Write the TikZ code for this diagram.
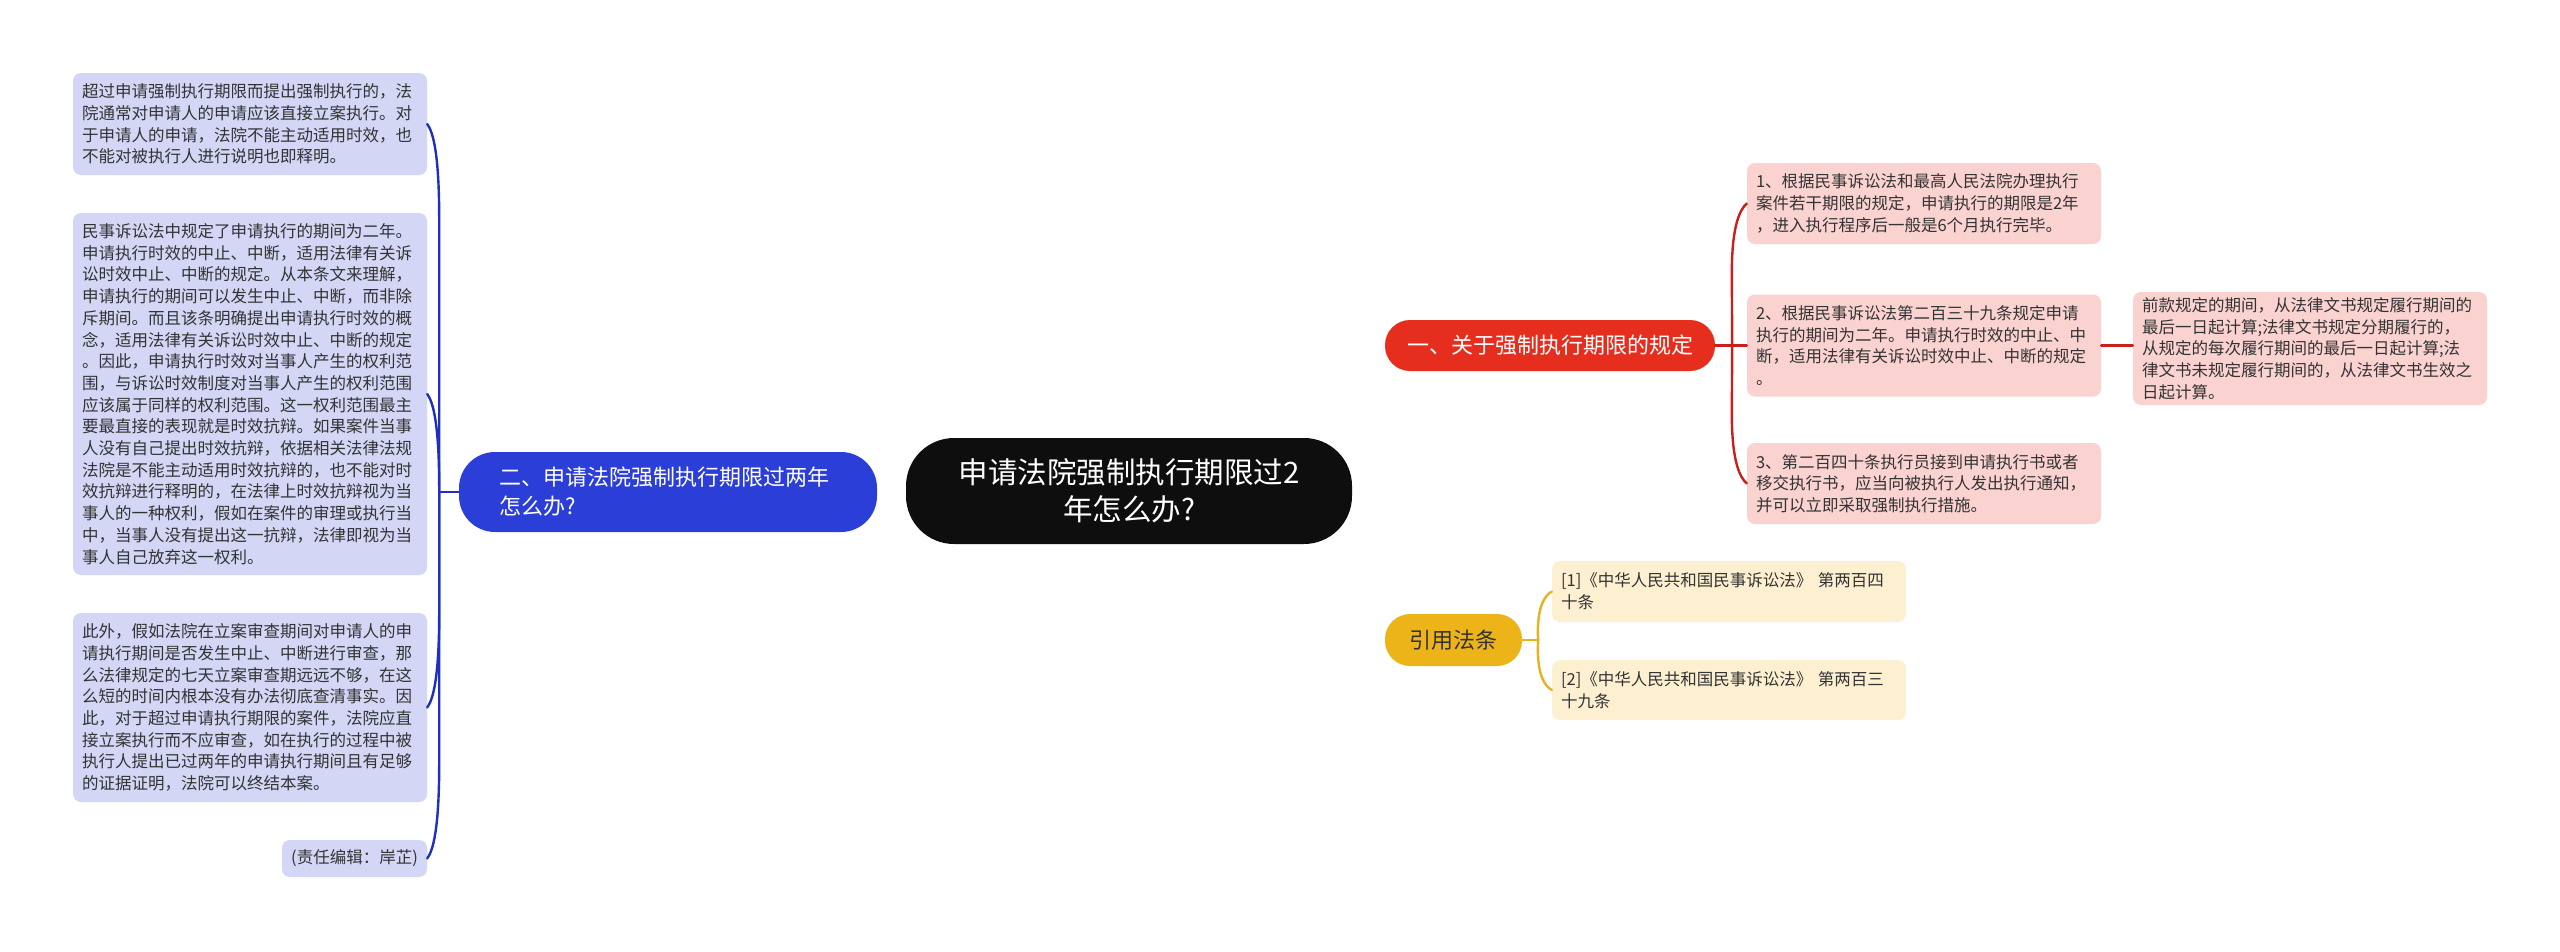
\documentclass[tikz,border=0pt]{standalone}
\usepackage{fontspec}
\setmainfont{Noto Sans CJK SC}
\usetikzlibrary{calc,backgrounds}
\definecolor{centralfill}{HTML}{0E0E0E}
\definecolor{bluenode}{HTML}{2B3FD8}
\definecolor{blueleaf}{HTML}{D3D6F5}
\definecolor{blueline}{HTML}{1F2FC0}
\definecolor{rednode}{HTML}{E62E1E}
\definecolor{redleaf}{HTML}{FAD3D1}
\definecolor{redline}{HTML}{C8211B}
\definecolor{yellownode}{HTML}{EDB419}
\definecolor{yellowleaf}{HTML}{FDF0D0}
\definecolor{yellowline}{HTML}{E6B21E}
\definecolor{leaftext}{HTML}{333333}
\tikzset{
  leafbox/.style={rounded corners=8pt, inner xsep=9pt, inner ysep=0pt, align=left,
    text=leaftext, font=\fontsize{16.5}{21.7}\selectfont, anchor=center},
  topicbox/.style={rounded corners=25pt, inner sep=0pt, align=center,
    font=\fontsize{22}{29}\selectfont, anchor=center},
  conn/.style={line width=2.4pt, line cap=round}
}
\begin{document}
\begin{tikzpicture}[x=1pt,y=-1pt]
\fill[white] (0,0) rectangle (2560,951);
\useasboundingbox (0,0) rectangle (2560,951);

% central
\node[fill=centralfill, text=white, rounded corners=48pt, minimum width=446pt, minimum height=106pt,
  inner sep=0pt, align=center, font=\fontsize{29.5}{37}\selectfont] (c) at (1129,491)
  {申请法院强制执行期限过2\\年怎么办?};

% blue branch
\node[topicbox, fill=bluenode, text=white, rounded corners=36pt, minimum width=418pt, minimum height=80pt,
  align=left, text width=338pt, inner xsep=40pt] (blue) at (668,492)
  {二、申请法院强制执行期限过两年\\怎么办?};
\node[leafbox, fill=blueleaf, minimum width=354pt, minimum height=102pt, text width=336pt] (b1) at (250,124)
  {超过申请强制执行期限而提出强制执行的，法\\院通常对申请人的申请应该直接立案执行。对\\于申请人的申请，法院不能主动适用时效，也\\不能对被执行人进行说明也即释明。};
\node[leafbox, fill=blueleaf, minimum width=354pt, minimum height=362pt, text width=336pt] (b2) at (250,394)
  {民事诉讼法中规定了申请执行的期间为二年。\\申请执行时效的中止、中断，适用法律有关诉\\讼时效中止、中断的规定。从本条文来理解，\\申请执行的期间可以发生中止、中断，而非除\\斥期间。而且该条明确提出申请执行时效的概\\念，适用法律有关诉讼时效中止、中断的规定\\。因此，申请执行时效对当事人产生的权利范\\围，与诉讼时效制度对当事人产生的权利范围\\应该属于同样的权利范围。这一权利范围最主\\要最直接的表现就是时效抗辩。如果案件当事\\人没有自己提出时效抗辩，依据相关法律法规\\法院是不能主动适用时效抗辩的，也不能对时\\效抗辩进行释明的，在法律上时效抗辩视为当\\事人的一种权利，假如在案件的审理或执行当\\中，当事人没有提出这一抗辩，法律即视为当\\事人自己放弃这一权利。};
\node[leafbox, fill=blueleaf, minimum width=354pt, minimum height=189pt, text width=336pt] (b3) at (250,707.5)
  {此外，假如法院在立案审查期间对申请人的申\\请执行期间是否发生中止、中断进行审查，那\\么法律规定的七天立案审查期远远不够，在这\\么短的时间内根本没有办法彻底查清事实。因\\此，对于超过申请执行期限的案件，法院应直\\接立案执行而不应审查，如在执行的过程中被\\执行人提出已过两年的申请执行期间且有足够\\的证据证明，法院可以终结本案。};
\node[leafbox, fill=blueleaf, minimum width=145pt, minimum height=37pt, align=center] (b4) at (354.5,858.5)
  {(责任编辑：岸芷)};

% red branch
\node[topicbox, fill=rednode, text=white, minimum width=330pt, minimum height=51pt] (red) at (1550,345.5)
  {一、关于强制执行期限的规定};
\node[leafbox, fill=redleaf, minimum width=354pt, minimum height=81pt, text width=336pt] (r1) at (1924,203.5)
  {1、根据民事诉讼法和最高人民法院办理执行\\案件若干期限的规定，申请执行的期限是2年\\，进入执行程序后一般是6个月执行完毕。};
\node[leafbox, fill=redleaf, minimum width=354pt, minimum height=102pt, text width=336pt] (r2) at (1924,345.5)
  {2、根据民事诉讼法第二百三十九条规定申请\\执行的期间为二年。申请执行时效的中止、中\\断，适用法律有关诉讼时效中止、中断的规定\\。};
\node[leafbox, fill=redleaf, minimum width=354pt, minimum height=81pt, text width=336pt] (r3) at (1924,483.5)
  {3、第二百四十条执行员接到申请执行书或者\\移交执行书，应当向被执行人发出执行通知，\\并可以立即采取强制执行措施。};
\node[leafbox, fill=redleaf, minimum width=354pt, minimum height=113pt, text width=336pt] (far) at (2310,348.5)
  {前款规定的期间，从法律文书规定履行期间的\\最后一日起计算;法律文书规定分期履行的，\\从规定的每次履行期间的最后一日起计算;法\\律文书未规定履行期间的，从法律文书生效之\\日起计算。};

% yellow branch
\node[topicbox, fill=yellownode, text=leaftext, minimum width=137pt, minimum height=52pt] (yel) at (1453.5,640)
  {引用法条};
\node[leafbox, fill=yellowleaf, minimum width=354pt, minimum height=61pt, text width=336pt] (y1) at (1729,591.5)
  {[1]《中华人民共和国民事诉讼法》 第两百四\\十条};
\node[leafbox, fill=yellowleaf, minimum width=354pt, minimum height=60pt, text width=336pt] (y2) at (1729,690)
  {[2]《中华人民共和国民事诉讼法》 第两百三\\十九条};

% connectors
\coordinate (bs) at ($(b1.east |- blue.west)+(12,0)$);
\coordinate (rs) at ($(red.east)+(17,0)$);
\coordinate (ys) at ($(yel.east)+(16,0)$);

\begin{pgfonlayer}{background}
\draw[conn, redline, line width=2.6pt] ($(c.north)+(9,0)$) .. controls ($(c.north)+(36,-62)$) and ($(red.west)+(-150,0)$) .. (red.west);
\draw[conn, yellowline, line width=2.6pt] ($(c.south)+(9,0)$) .. controls ($(c.south)+(36,60)$) and ($(yel.west)+(-150,0)$) .. (yel.west);
\draw[conn, blueline, line width=2.6pt] (c.west) -- (blue.east);
\end{pgfonlayer}

\draw[conn, blueline] (blue.west) -- (bs);
\foreach \n/\s in {b1/1, b2/1, b3/-1, b4/-1}
  \draw[conn, blueline] (bs) -- ($(\n.east)+(12,95*\s)$) .. controls ($(\n.east)+(12,30*\s)$) and ($(\n.east)+(6,8*\s)$) .. (\n.east);

\draw[conn, redline] (red.east) -- (r2.west);
\foreach \n/\s in {r1/1, r3/-1}
  \draw[conn, redline] (rs) -- ($(\n.west)+(-15,70*\s)$) .. controls ($(\n.west)+(-15,22*\s)$) and ($(\n.west)+(-7,6*\s)$) .. (\n.west);
\draw[conn, redline] (r2.east) -- (r2.east -| far.west);

\draw[conn, yellowline] (yel.east) -- (ys);
\foreach \n/\s in {y1/1, y2/-1}
  \draw[conn, yellowline] (ys) -- ($(\n.west)+(-14,42*\s)$) .. controls ($(\n.west)+(-14,14*\s)$) and ($(\n.west)+(-7,4*\s)$) .. (\n.west);
\end{tikzpicture}
\end{document}
